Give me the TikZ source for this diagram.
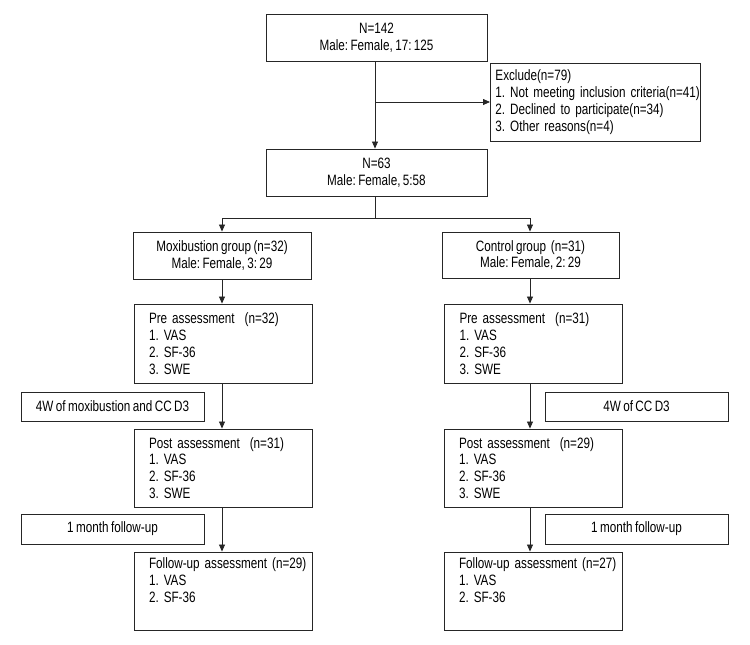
\documentclass[tikz,border=0pt]{standalone}
\usepackage{fontspec}
\setmainfont{Liberation Sans}[FakeStretch=0.78, WordSpace=0.75]
\usetikzlibrary{arrows.meta}
\frenchspacing
\newcommand\nb[1]{\mbox{#1}}
\begin{document}
\begin{tikzpicture}[x=1pt,y=-1pt,
  font=\fontsize{15}{16.8}\selectfont,
  box/.style={draw=black!85, line width=0.9pt, inner sep=0pt, align=center},
  lbox/.style={draw=black!85, line width=0.9pt, inner ysep=0pt, inner xsep=15pt, align=left},
  conn/.style={draw=black!85, line width=0.8pt},
  arr/.style={conn, -{Triangle[length=7pt,width=6pt]}}]
\useasboundingbox (0,0) rectangle (750,645);
% top
\node[box, minimum width=221pt, minimum height=47pt] (top) at (376.5,37.5) {N=142\\Male: Female, 17: 125};
\node[draw=black!85, line width=0.9pt, inner xsep=5pt, inner ysep=0pt, align=left, text width=200pt, minimum height=78pt, anchor=west] (excl) at (490,102)
 {\nb{Exclude(n=79)}\\\nb{1. Not meeting inclusion criteria(n=41)}\\\nb{2. Declined to participate(n=34)}\\\nb{3. Other reasons(n=4)}};
\node[box, minimum width=221pt, minimum height=47pt] (n63) at (376.5,172.5) {N=63\\Male: Female, 5:58};
% groups
\node[box, minimum width=178pt, minimum height=47pt] (mox) at (222,255.5) {Moxibustion group (n=32)\\Male: Female, 3: 29};
\node[box, minimum width=177pt, minimum height=46pt] (ctl) at (530.5,255) {Control group\ \ (n=31)\\Male: Female, 2: 29};
% left column
\node[lbox, text width=148pt, minimum height=79pt] (preL) at (223,343.5) {\nb{Pre assessment\ \ (n=32)}\\1. VAS\\2. SF-36\\3. SWE};
\node[lbox, text width=148pt, minimum height=78pt] (postL) at (223,468) {\nb{Post assessment\ \ (n=31)}\\1. VAS\\2. SF-36\\3. SWE};
\node[lbox, text width=148pt, minimum height=78pt] (fuL) at (223,591) {\nb{Follow-up assessment (n=29)}\\1. VAS\\2. SF-36\\\strut};
\node[box, minimum width=183pt, minimum height=29pt] (twL) at (112.5,406.5) {4W of moxibustion and CC D3};
\node[box, minimum width=183pt, minimum height=30pt] (omL) at (112.5,529) {1 month follow-up};
% right column
\node[lbox, text width=148pt, minimum height=79pt] (preR) at (533.5,343.5) {\nb{Pre assessment\ \ (n=31)}\\1. VAS\\2. SF-36\\3. SWE};
\node[lbox, text width=148pt, minimum height=78pt] (postR) at (533,468) {\nb{Post assessment\ \ (n=29)}\\1. VAS\\2. SF-36\\3. SWE};
\node[lbox, text width=148pt, minimum height=78pt] (fuR) at (533,591) {\nb{Follow-up assessment (n=27)}\\1. VAS\\2. SF-36\\\strut};
\node[box, minimum width=183pt, minimum height=29pt] (twR) at (636.5,406.5) {4W of CC D3};
\node[box, minimum width=183pt, minimum height=30pt] (omR) at (636.5,529) {1 month follow-up};
% connectors
\coordinate (ex) at (375,102);
\coordinate (br) at (375,218);
\draw[arr] (top.south -| ex) -- (n63.north -| ex);
\draw[arr] (ex) -- (excl.west);
\draw[conn] (n63.south -| br) -- (br);
\draw[arr] (br) -| (mox.north -| 222,0);
\draw[arr] (br) -| (ctl.north -| 530,0);
\draw[arr] (mox.south -| 222,0) -- (preL.north -| 222,0);
\draw[arr] (preL.south -| 222,0) -- (postL.north -| 222,0);
\draw[arr] (postL.south -| 222,0) -- (fuL.north -| 222,0);
\draw[arr] (ctl.south -| 530,0) -- (preR.north -| 530,0);
\draw[arr] (preR.south -| 530,0) -- (postR.north -| 530,0);
\draw[arr] (postR.south -| 530,0) -- (fuR.north -| 530,0);
\end{tikzpicture}
\end{document}
